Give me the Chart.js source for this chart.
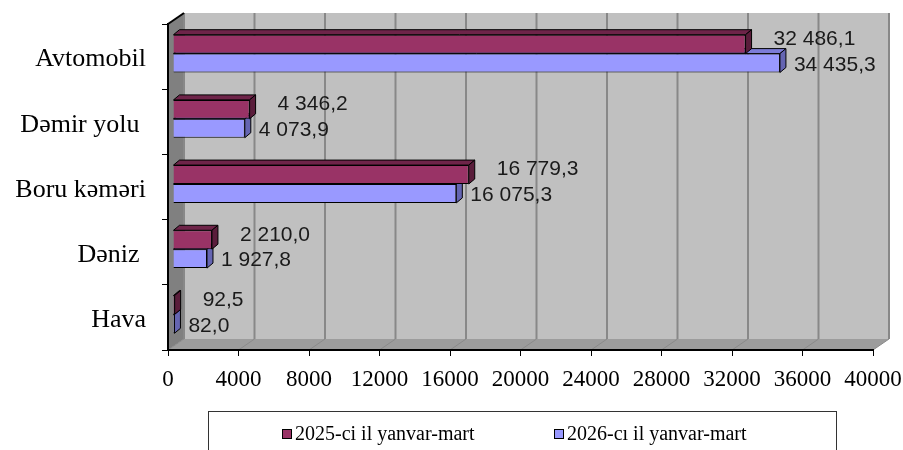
<!DOCTYPE html>
<html>
<head>
<meta charset="utf-8">
<script src="https://cdn.jsdelivr.net/npm/chart.js@4"></script>
<style>
    body { margin: 0; background: #fff; }
    #wrap { position: relative; width: 903px; height: 450px; overflow: hidden; }
    #legend {
        position: absolute; left: 208px; top: 411px; width: 629px; height: 60px;
        border: 1px solid #333; box-sizing: border-box;
        font-family: 'Liberation Serif', 'Times New Roman', serif; font-size: 20px; color: #000;
    }
    .item { position: absolute; top: 10px; display: flex; align-items: center; white-space: nowrap; }
    .sw { width: 8px; height: 8px; border: 1px solid #000; margin-right: 3px; }
</style>
</head>
<body>
<div id="wrap">
    <canvas id="chart"></canvas>
    <div id="legend"></div>
</div>
<script>
var categories = ['Avtomobil', 'Dəmir yolu ', 'Boru kəməri', 'Dəniz ', 'Hava'];
var seriesNames = ['2025-ci il yanvar-mart', '2026-cı il yanvar-mart'];
var values2025 = [32486.1, 4346.2, 16779.3, 2210.0, 92.5];
var values2026 = [34435.3, 4073.9, 16075.3, 1927.8, 82.0];
var xMin = 0;
var xMax = 40000;
var xStep = 4000;

var colors = ['#993366', '#9999ff'];
var faceColors = [
    { top: '#6e2449', side: '#5a1d3b' },
    { top: '#7c7cd8', side: '#6565b2' }
];
var serif = "'Liberation Serif', 'Times New Roman', serif";
var sans = "'Liberation Sans', Arial, sans-serif";

// 3d look
var wallDx = 16, wallDy = 11;
var barShiftX = 5, barShiftY = -3;
var faceDx = 6, faceDy = 5;

function fmt(v) {
    var parts = v.toFixed(1).split('.');
    var intPart = parts[0].replace(/\B(?=(\d{3})+(?!\d))/g, ' ');
    return intPart + ',' + parts[1];
}

function poly(ctx, pts, fill, stroke) {
    ctx.beginPath();
    ctx.moveTo(pts[0][0], pts[0][1]);
    for (var i = 1; i < pts.length; i++) ctx.lineTo(pts[i][0], pts[i][1]);
    ctx.closePath();
    if (fill) { ctx.fillStyle = fill; ctx.fill(); }
    if (stroke) { ctx.strokeStyle = stroke; ctx.lineWidth = 1; ctx.stroke(); }
}

var wallsPlugin = {
    id: 'walls',
    beforeDraw(chart) {
        var ctx = chart.ctx, a = chart.chartArea, xs = chart.scales.x;
        ctx.save();
        ctx.fillStyle = '#c0c0c0';
        ctx.fillRect(a.left + wallDx, a.top - wallDy, a.right - a.left, a.bottom - a.top);
        poly(ctx, [[a.left, a.top], [a.left + wallDx, a.top - wallDy], [a.left + wallDx, a.bottom - wallDy], [a.left, a.bottom]], '#808080');
        poly(ctx, [[a.left, a.bottom], [a.left + wallDx, a.bottom - wallDy], [a.right + wallDx, a.bottom - wallDy], [a.right, a.bottom]], '#9c9c9c');

        xs.ticks.forEach((t, i) => {
            var x = xs.getPixelForTick(i);
            ctx.beginPath();
            ctx.strokeStyle = '#888';
            ctx.lineWidth = 2;
            ctx.moveTo(x + wallDx, a.top - wallDy);
            ctx.lineTo(x + wallDx, a.bottom - wallDy);
            ctx.stroke();
            ctx.beginPath();
            ctx.strokeStyle = '#8a8a8a';
            ctx.lineWidth = 1;
            ctx.moveTo(x, a.bottom);
            ctx.lineTo(x + wallDx, a.bottom - wallDy);
            ctx.stroke();
        });

        ctx.beginPath();
        ctx.strokeStyle = '#000';
        ctx.lineWidth = 2;
        ctx.moveTo(a.left, a.top);
        ctx.lineTo(a.left + wallDx, a.top - wallDy);
        ctx.stroke();
        ctx.restore();
    }
};

var bars3dPlugin = {
    id: 'bars3d',
    beforeDatasetsDraw(chart) {
        chart.ctx.save();
        chart.ctx.translate(barShiftX, barShiftY);
    },
    afterDatasetDraw(chart, args) {
        var ctx = chart.ctx;
        var fc = faceColors[args.index];
        args.meta.data.forEach(bar => {
            var p = bar.getProps(['x', 'y', 'base', 'height'], true);
            var top = p.y - p.height / 2, bot = p.y + p.height / 2;
            poly(ctx, [[p.base, top], [p.base + faceDx, top - faceDy], [p.x + faceDx, top - faceDy], [p.x, top]], fc.top, '#000');
            poly(ctx, [[p.x, top], [p.x + faceDx, top - faceDy], [p.x + faceDx, bot - faceDy], [p.x, bot]], fc.side, '#000');
        });
    },
    afterDatasetsDraw(chart) {
        var ctx = chart.ctx;
        var gaps = [28, 14];
        var lift = [-5, 2];
        ctx.font = '21px ' + sans;
        ctx.fillStyle = '#1a1a1a';
        ctx.textAlign = 'left';
        ctx.textBaseline = 'middle';
        chart.data.datasets.forEach((ds, di) => {
            chart.getDatasetMeta(di).data.forEach((bar, i) => {
                ctx.fillText(fmt(ds.data[i]), bar.x + gaps[di], bar.y + lift[di]);
            });
        });
        ctx.restore();
    }
};

var chart = new Chart(document.getElementById('chart'), {
    type: 'bar',
    data: {
        labels: categories,
        datasets: [
            { label: seriesNames[0], data: values2025, backgroundColor: colors[0], borderColor: '#000', borderWidth: 1 },
            { label: seriesNames[1], data: values2026, backgroundColor: colors[1], borderColor: '#000', borderWidth: 1 }
        ]
    },
    options: {
        indexAxis: 'y',
        responsive: true,
        maintainAspectRatio: false,
        animation: false,
        clip: false,
        categoryPercentage: 0.58,
        barPercentage: 1,
        layout: { padding: { top: 24, right: 30, bottom: 0, left: 0 } },
        plugins: { legend: { display: false }, tooltip: { enabled: false } },
        scales: {
            x: {
                min: xMin,
                max: xMax,
                afterFit: s => { s.height = 100; s.paddingLeft = 0; s.paddingRight = 0; },
                ticks: { stepSize: xStep, color: '#000', font: { family: serif, size: 23 }, padding: 10, maxRotation: 0, autoSkip: false, callback: v => String(v) },
                grid: { drawOnChartArea: false, drawTicks: true, tickLength: 6, color: '#000' },
                border: { display: true, color: '#000', width: 2 }
            },
            y: {
                afterFit: s => { s.width = 168; s.paddingTop = 0; s.paddingBottom = 0; },
                ticks: { color: '#000', font: { family: serif, size: 26 }, padding: 16, labelOffset: 3 },
                grid: { drawOnChartArea: false, drawTicks: true, tickLength: 6, color: '#000', offset: true },
                border: { display: true, color: '#000', width: 2 }
            }
        }
    },
    plugins: [wallsPlugin, bars3dPlugin]
});

// legend box
var legend = document.getElementById('legend');
var itemLeft = [73, 345];
seriesNames.forEach((name, i) => {
    var item = document.createElement('div');
    item.className = 'item';
    item.style.left = itemLeft[i] + 'px';
    item.innerHTML = '<span class="sw" style="background:' + colors[i] + '"></span><span>' + name + '</span>';
    legend.appendChild(item);
});
</script>
</body>
</html>
